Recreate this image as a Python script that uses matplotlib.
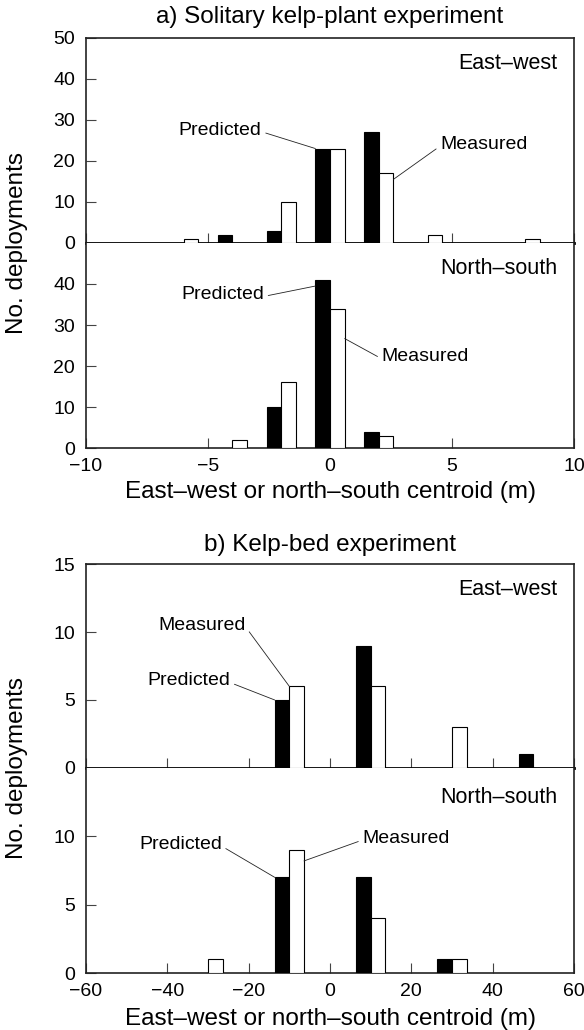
import matplotlib
matplotlib.use("Agg")
import matplotlib.pyplot as plt
import numpy as np

plt.rcParams['font.family'] = ['Liberation Sans', 'DejaVu Sans']
plt.rcParams['font.size'] = 14

# a) Solitary kelp-plant experiment (bins of 2 m)
bins_a = [-6, -4, -2, 0, 2, 4, 6, 8]
ew_pred_a = [0, 2, 3, 23, 27, 0, 0, 0]
ew_meas_a = [1, 0, 10, 23, 17, 2, 0, 1]
ns_pred_a = [0, 0, 10, 41, 4, 0, 0, 0]
ns_meas_a = [0, 2, 16, 34, 3, 0, 0, 0]

# b) Kelp-bed experiment (bins of 20 m)
bins_b = [-30, -10, 10, 30, 50]
ew_pred_b = [0, 5, 9, 0, 1]
ew_meas_b = [0, 6, 6, 3, 0]
ns_pred_b = [0, 7, 7, 1, 0]
ns_meas_b = [1, 9, 4, 1, 0]

xticks_a = [-10, -5, 0, 5, 10]
xticks_b = [-60, -40, -20, 0, 20, 40, 60]

XLABEL = 'East\u2013west or north\u2013south centroid (m)'
YLABEL = 'No. deployments'


def barras(ax, centros, pred, meas, larg):
    """Desenha as barras previstas (pretas) e medidas (brancas) lado a lado."""
    c = np.array(centros, dtype=float)
    pred = np.array(pred)
    meas = np.array(meas)
    ok_p = pred > 0
    ok_m = meas > 0
    ax.bar(c[ok_p] - larg / 2, pred[ok_p], width=larg, color='black',
           edgecolor='black', linewidth=0.8, zorder=3)
    ax.bar(c[ok_m] + larg / 2, meas[ok_m], width=larg, color='white',
           edgecolor='black', linewidth=0.8, zorder=3)


def estilo(ax, xlim, xticks, ylim, yticks, mostrar_x):
    ax.set_xlim(xlim)
    ax.set_ylim(ylim)
    ax.set_xticks(xticks)
    ax.set_yticks(yticks)
    ax.tick_params(axis='both', direction='in', length=7, width=0.8,
                   color='#444444', pad=8)
    ax.tick_params(axis='x', labelbottom=mostrar_x, pad=7)
    for s in ax.spines.values():
        s.set_linewidth(1.2)
        s.set_color('#222222')


def rotulo(ax, texto, xy, xytext):
    # texto com linha-guia ate a barra
    ax.annotate(texto, xy=xy, xytext=xytext, ha='center', va='center',
                fontsize=14,
                arrowprops=dict(arrowstyle='-', lw=0.6, color='#222222',
                                shrinkA=1, shrinkB=0,
                                relpos=(1.0, 0.4) if xytext[0] < xy[0] else (0.0, 0.4)))


fig = plt.figure(figsize=(5.84, 10.30), dpi=100)
L, W = 0.1473, 0.8356
xc = L + W / 2

# painel a
ax1 = fig.add_axes([L, 0.7641, W, 0.1993])
ax2 = fig.add_axes([L, 0.5650, W, 0.1991])
barras(ax1, bins_a, ew_pred_a, ew_meas_a, 0.6)
barras(ax2, bins_a, ns_pred_a, ns_meas_a, 0.6)
estilo(ax1, (-10, 10), xticks_a, (0, 50), [0, 10, 20, 30, 40, 50], False)
estilo(ax2, (-10, 10), xticks_a, (0, 50), [0, 10, 20, 30, 40], True)
ax1.spines['bottom'].set_linewidth(2.0)
ax1.spines['bottom'].set_color('black')
ax2.spines['top'].set_visible(False)
ax1.text(0.965, 0.875, 'East\u2013west', transform=ax1.transAxes,
         ha='right', va='center', fontsize=15.5)
ax2.text(0.965, 0.875, 'North\u2013south', transform=ax2.transAxes,
         ha='right', va='center', fontsize=15.5)
rotulo(ax1, 'Predicted', (-0.6, 23), (-4.5, 27.5))
rotulo(ax1, 'Measured', (2.6, 15.5), (6.3, 24))
rotulo(ax2, 'Predicted', (-0.6, 39.5), (-4.4, 37.4))
rotulo(ax2, 'Measured', (0.6, 26.7), (3.9, 22.2))
fig.text(xc, 1 - 17 / 1030, 'a) Solitary kelp-plant experiment',
         ha='center', va='center', fontsize=17.5)
fig.text(xc, 1 - 492 / 1030, XLABEL, ha='center', va='center', fontsize=17.5)
fig.text(0.029, 1 - 243 / 1030, YLABEL, rotation=90,
         ha='center', va='center', fontsize=17.5)

# painel b
ax3 = fig.add_axes([L, 0.2544, W, 0.1980])
ax4 = fig.add_axes([L, 0.0553, W, 0.1991])
barras(ax3, bins_b, ew_pred_b, ew_meas_b, 3.6)
barras(ax4, bins_b, ns_pred_b, ns_meas_b, 3.6)
estilo(ax3, (-60, 60), xticks_b, (0, 15), [0, 5, 10, 15], False)
estilo(ax4, (-60, 60), xticks_b, (0, 15), [0, 5, 10], True)
ax3.spines['bottom'].set_linewidth(2.0)
ax3.spines['bottom'].set_color('black')
ax4.spines['top'].set_visible(False)
ax3.text(0.965, 0.875, 'East\u2013west', transform=ax3.transAxes,
         ha='right', va='center', fontsize=15.5)
ax4.text(0.965, 0.857, 'North\u2013south', transform=ax4.transAxes,
         ha='right', va='center', fontsize=15.5)
rotulo(ax3, 'Measured', (-10, 6), (-31.5, 10.5))
rotulo(ax3, 'Predicted', (-13.6, 5), (-34.7, 6.4))
rotulo(ax4, 'Predicted', (-13.6, 7), (-36.8, 9.4))
rotulo(ax4, 'Measured', (-6.4, 8.2), (18.7, 9.85))
fig.text(xc, 1 - 545 / 1030, 'b) Kelp-bed experiment',
         ha='center', va='center', fontsize=17.5)
fig.text(xc, 1 - 1019 / 1030, XLABEL, ha='center', va='center', fontsize=17.5)
fig.text(0.029, 1 - 768 / 1030, YLABEL, rotation=90,
         ha='center', va='center', fontsize=17.5)

fig.savefig('out.png', dpi=100)
